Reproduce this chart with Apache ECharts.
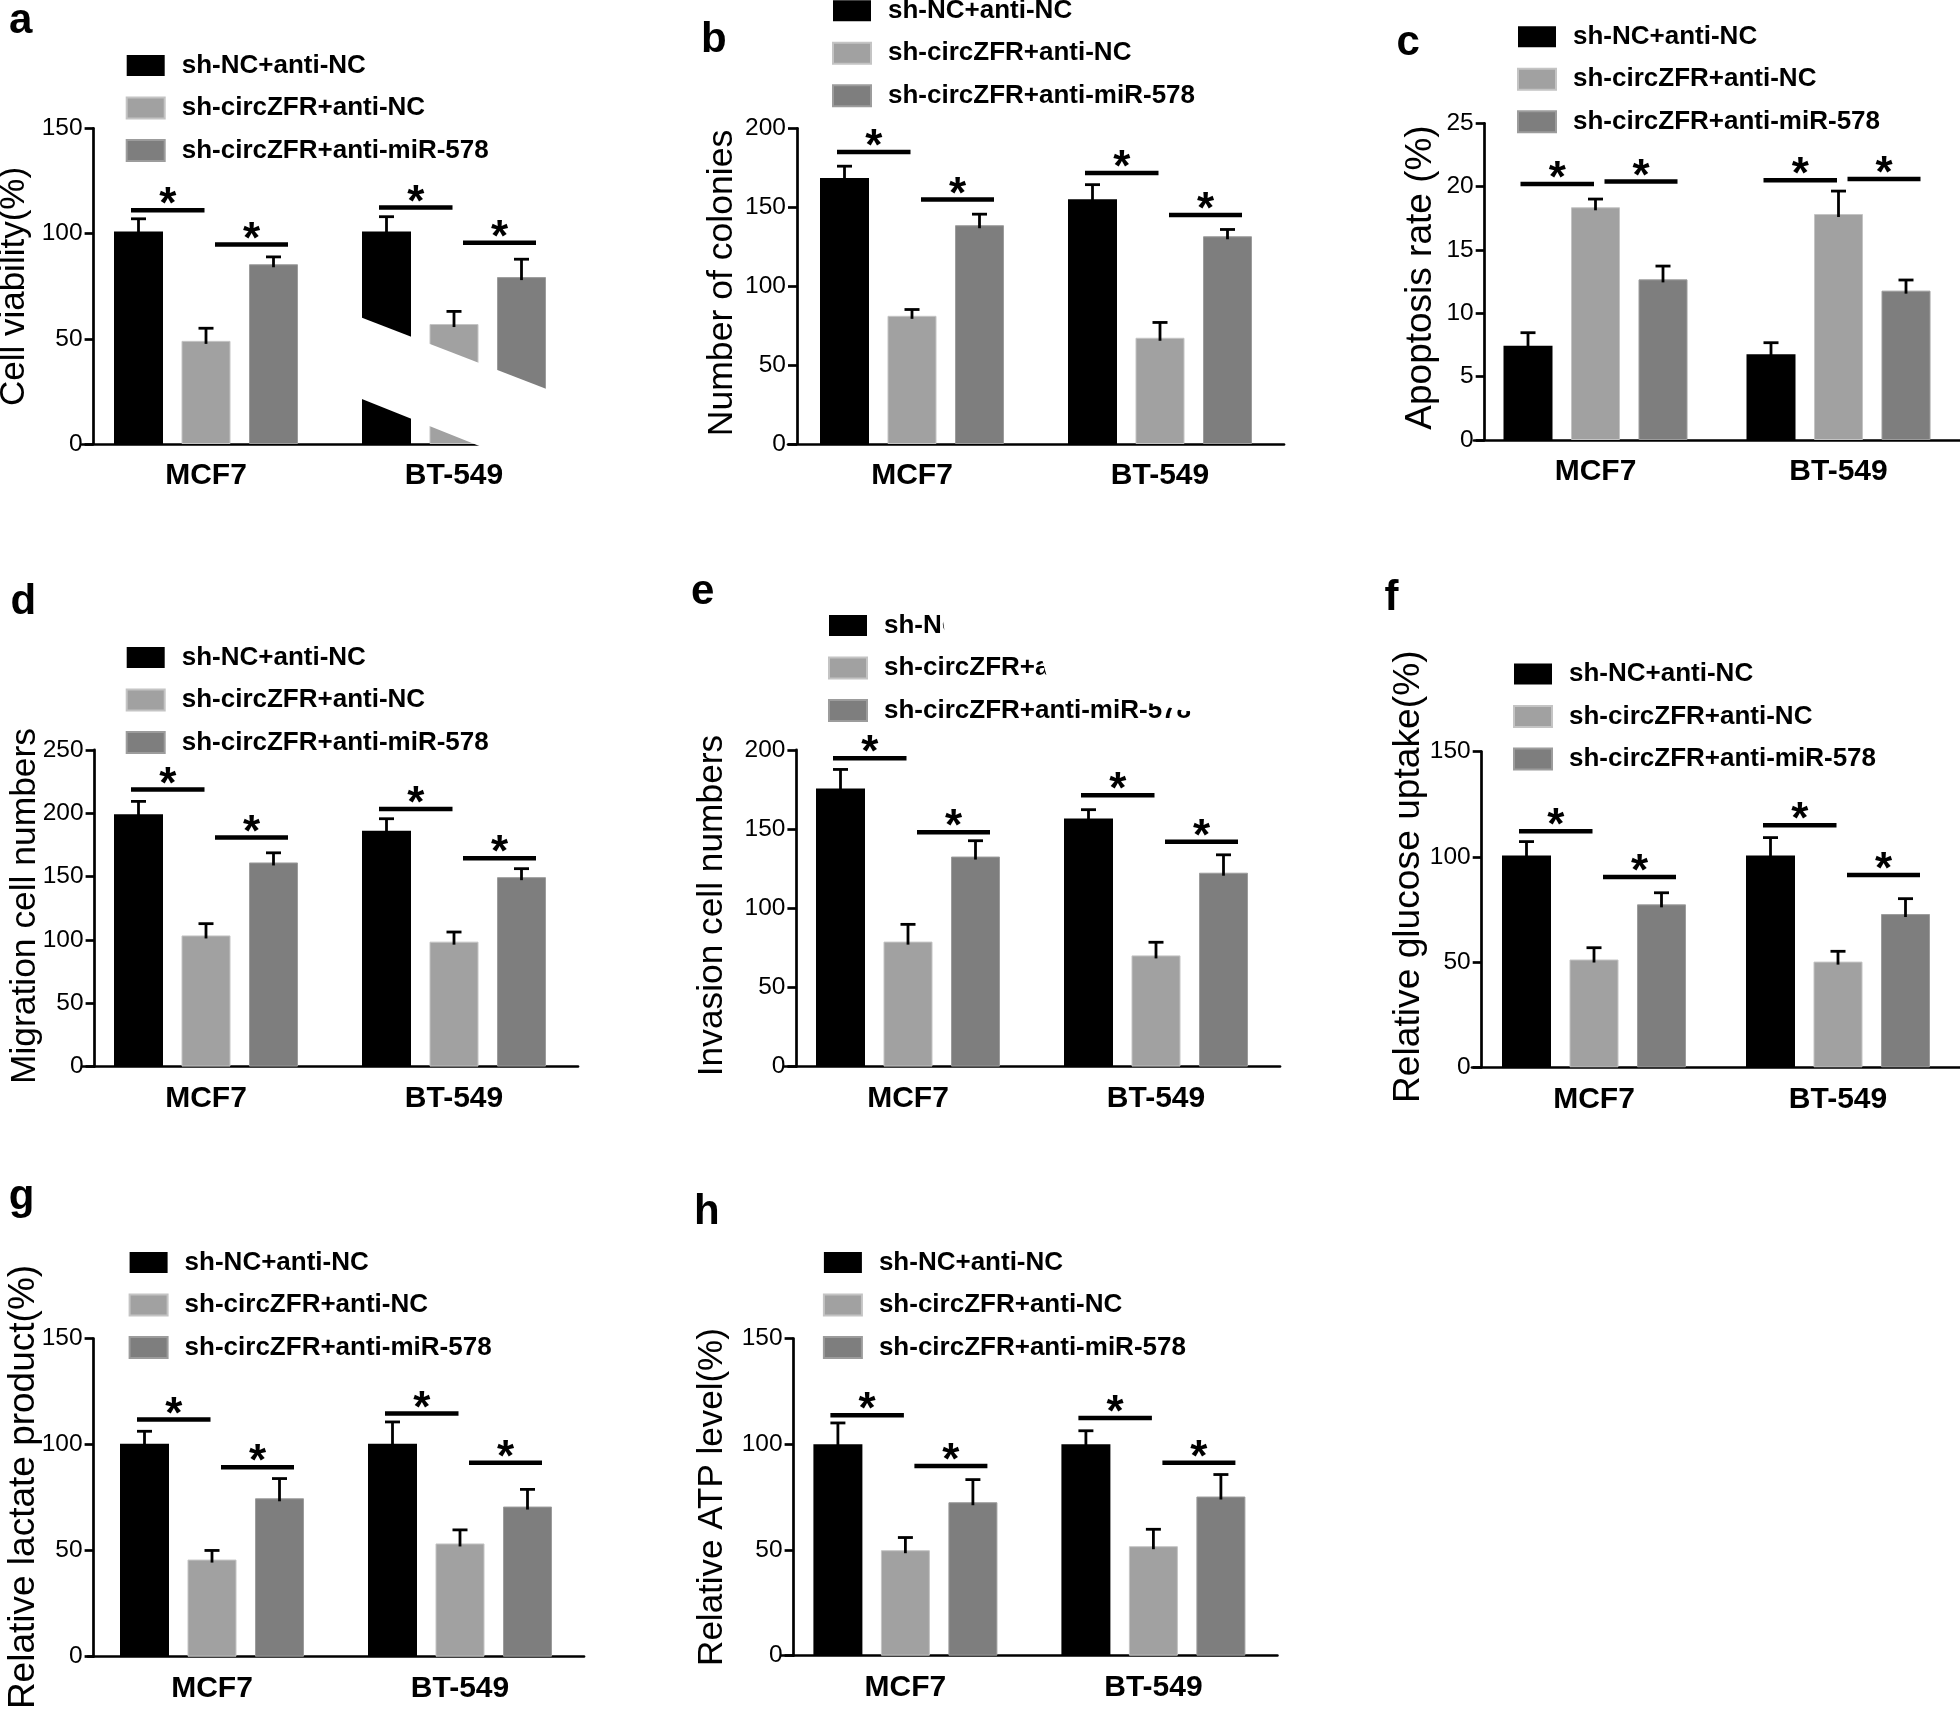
<!DOCTYPE html>
<html><head><meta charset="utf-8">
<script src="https://cdn.jsdelivr.net/npm/echarts@6/dist/echarts.min.js"></script>
<style>html,body{margin:0;padding:0;background:#fff}#c{width:1960px;height:1709px}</style>
</head><body><div id="c"></div>
<script>
// ---------------- data ----------------
const categories = ['MCF7', 'BT-549'];
const groupNames = ['sh-NC+anti-NC', 'sh-circZFR+anti-NC', 'sh-circZFR+anti-miR-578'];

// a: Cell viability
const aMeans = [[101, 101], [49, 57], [85.4, 79.3]];
const aErrors = [[6, 7], [6, 6], [3.5, 8.5]];
const aSig = [[111.1, 94.8], [112.4, 95.6]];
const aTicks = [0, 50, 100, 150];
// b: Number of colonies
const bMeans = [[168.5, 155], [81.2, 67.3], [138.6, 131.6]];
const bErrors = [[7.5, 9.3], [4, 9.7], [7, 4.3]];
const bSig = [[185, 154.9], [171.7, 145]];
const bTicks = [0, 50, 100, 150, 200];
// c: Apoptosis rate
const cMeans = [[7.44, 6.76], [18.37, 17.84], [12.68, 11.79]];
const cErrors = [[1.03, 0.92], [0.65, 1.81], [1.05, 0.84]];
const cSig = [[20.2, 20.4], [20.5, 20.6]];
const cTicks = [0, 5, 10, 15, 20, 25];
// d: Migration
const dMeans = [[199.2, 186.2], [103.5, 98.6], [161.1, 149.5]];
const dErrors = [[10.1, 9.4], [9.3, 7.6], [7.6, 6.7]];
const dSig = [[218.7, 180.7], [203.3, 164.4]];
const dTicks = [0, 50, 100, 150, 200, 250];
// e: Invasion
const eMeans = [[175.6, 156.7], [78.9, 70.2], [132.6, 122.4]];
const eErrors = [[12, 5.5], [10.9, 8.3], [10, 11.3]];
const eSig = [[194.6, 148], [171.3, 142]];
const eTicks = [0, 50, 100, 150, 200];
// f: glucose uptake
const fMeans = [[100.6, 100.6], [51.2, 50.2], [77.4, 72.8]];
const fErrors = [[6.6, 8.5], [5.6, 4.9], [5.5, 7.3]];
const fSig = [[112.1, 90.4], [115, 91.3]];
const fTicks = [0, 50, 100, 150];
// g: lactate
const gMeans = [[100.4, 100.4], [45.8, 53.4], [74.7, 70.8]];
const gErrors = [[5.9, 10.3], [4.3, 6.4], [9.3, 8.1]];
const gSig = [[111.9, 89.3], [114.7, 91.5]];
const gTicks = [0, 50, 100, 150];
// h: ATP
const hMeans = [[100, 100], [49.9, 51.8], [72.6, 75.3]];
const hErrors = [[10.1, 6.4], [6, 8], [10.7, 10.4]];
const hSig = [[113.7, 89.7], [112.5, 91.3]];
const hTicks = [0, 50, 100, 150];

// ---------------- layout / style ----------------
const FF = '"Liberation Sans", Arial, Helvetica, sans-serif';
const COLORS = ['#000000', '#a1a1a1', '#7e7e7e'];
const BORDERS = ['#000000', '#c4c4c4', '#9c9c9c'];
const BAR_W = 49, UNIT = 67.5, CAP_HALF = 7.5, SPACING = 248;

const panels = [
  {letter: 'a', title: 'Cell viability(%)', means: aMeans, errs: aErrors, sig: aSig, ticks: aTicks,
   axisX: 93.6, c1: 206, top: 128.3, bottom: 444, legend: [125.7, 52.5], letterPos: [9, 21], titlePos: [14, 286.5, 35]},
  {letter: 'b', title: 'Number of colonies', means: bMeans, errs: bErrors, sig: bSig, ticks: bTicks,
   axisX: 797, c1: 912, top: 128.3, bottom: 444, legend: [832, -2.3], letterPos: [701, 40.5], titlePos: [722, 283, 35.6]},
  {letter: 'c', title: 'Apoptosis rate (%)', means: cMeans, errs: cErrors, sig: cSig, ticks: cTicks,
   axisX: 1484.7, c1: 1598, top: 123.3, bottom: 440, legend: [1517, 23.8], letterPos: [1396.5, 43.5], titlePos: [1421, 277.5, 37]},
  {letter: 'd', title: 'Migration cell numbers', means: dMeans, errs: dErrors, sig: dSig, ticks: dTicks,
   axisX: 94.6, c1: 206, top: 749.8, bottom: 1066.6, legend: [125.7, 644.5], letterPos: [10.5, 602], titlePos: [25, 906, 35.4]},
  {letter: 'e', title: 'Invasion cell numbers', means: eMeans, errs: eErrors, sig: eSig, ticks: eTicks,
   axisX: 796.4, c1: 908, top: 749.8, bottom: 1066.6, legend: [828, 612.5], letterPos: [691, 592.5], titlePos: [712, 905.5, 35.3]},
  {letter: 'f', title: 'Relative glucose uptake(%)', means: fMeans, errs: fErrors, sig: fSig, ticks: fTicks,
   axisX: 1481.7, c1: 1596, top: 751.5, bottom: 1067.3, legend: [1513, 661], letterPos: [1384.5, 598.5], titlePos: [1409, 876.7, 37.2]},
  {letter: 'g', title: 'Relative lactate product(%)', means: gMeans, errs: gErrors, sig: gSig, ticks: gTicks,
   axisX: 93.6, c1: 212, top: 1338.6, bottom: 1656.7, legend: [128.6, 1249.5], letterPos: [8.7, 1197.5], titlePos: [24, 1487, 37]},
  {letter: 'h', title: 'Relative ATP level(%)', means: hMeans, errs: hErrors, sig: hSig, ticks: hTicks,
   axisX: 793.6, c1: 905.4, top: 1338.6, bottom: 1655.7, legend: [822.9, 1249.5], letterPos: [694, 1212], titlePos: [712, 1497, 35]}
];

const AX = {color: '#000', width: 2.7};
const grid = [], xAxis = [], yAxis = [], series = [], legend = [], elements = [];

panels.forEach((p, i) => {
  const left = p.c1 - SPACING / 2;
  grid.push({left: left, top: p.top, width: SPACING * 2, height: p.bottom - p.top, containLabel: false});
  xAxis.push({
    type: 'category', gridIndex: i, data: categories,
    axisLine: {lineStyle: AX},
    axisTick: {alignWithLabel: true, length: 9, lineStyle: AX},
    axisLabel: {color: '#000', fontSize: 30, fontWeight: 'bold', fontFamily: FF, margin: 17}
  });
  yAxis.push({
    type: 'value', gridIndex: i,
    min: p.ticks[0], max: p.ticks[p.ticks.length - 1], interval: p.ticks[1] - p.ticks[0],
    offset: -(p.axisX - left),
    axisLine: {show: true, lineStyle: AX},
    axisTick: {show: true, length: 9, lineStyle: AX},
    splitLine: {show: false},
    axisLabel: {color: '#000', fontSize: 24.5, fontFamily: FF, margin: 11}
  });
  groupNames.forEach((name, s) => {
    series.push({
      type: 'bar', name: name, xAxisIndex: i, yAxisIndex: i,
      data: p.means[s], barWidth: BAR_W, barGap: ((UNIT - BAR_W) / BAR_W * 100) + '%',
      itemStyle: {color: COLORS[s], borderColor: BORDERS[s], borderWidth: s === 0 ? 0 : 1},
      silent: true, z: 2
    });
  });
  // error bars (mean + SD, drawn through the axes' scales)
  const errData = [];
  p.means.forEach((arr, s) => arr.forEach((m, c) => errData.push([c, s, m, p.errs[s][c]])));
  series.push({
    type: 'custom', name: 'err-' + p.letter, xAxisIndex: i, yAxisIndex: i, z: 5, silent: true,
    encode: {x: 0, y: 2}, data: errData,
    renderItem: function (params, api) {
      const c = api.value(0), s = api.value(1), m = api.value(2), e = api.value(3);
      const p0 = api.coord([c, m]);
      const p1 = api.coord([c, m + e]);
      const x = p0[0] + (s - 1) * UNIT;
      return {type: 'group', children: [
        {type: 'line', shape: {x1: x, y1: p0[1] + 3, x2: x, y2: p1[1]}, style: {stroke: '#000', lineWidth: 2.8}},
        {type: 'line', shape: {x1: x - CAP_HALF, y1: p1[1], x2: x + CAP_HALF, y2: p1[1]}, style: {stroke: '#000', lineWidth: 2.8}}
      ]};
    }
  });
  // significance bars with asterisks
  series.push({
    type: 'custom', name: 'sig-' + p.letter, xAxisIndex: i, yAxisIndex: i, z: 5, silent: true,
    encode: {x: 0, y: 1}, data: p.sig.map((l, c) => [c, l[0], l[1]]),
    renderItem: function (params, api) {
      const c = api.value(0);
      const q1 = api.coord([c, api.value(1)]);
      const q2 = api.coord([c, api.value(2)]);
      const children = [];
      [[q1, -75, -1.5], [q2, 9, 82]].forEach(function (t) {
        const xa = t[0][0] + t[1], xb = t[0][0] + t[2], y = t[0][1];
        children.push({type: 'line', shape: {x1: xa, y1: y, x2: xb, y2: y}, style: {stroke: '#000', lineWidth: 4.5}});
        children.push({type: 'text', x: (xa + xb) / 2, y: y - 4,
          style: {text: '*', fontSize: 44, fontWeight: 'bold', fontFamily: FF, fill: '#000', align: 'center', verticalAlign: 'middle'}});
      });
      return {type: 'group', children: children};
    }
  });
  legend.push({
    left: p.legend[0], top: p.legend[1], orient: 'vertical', padding: 0,
    itemWidth: 38, itemHeight: 21, itemGap: 16.5, icon: 'rect', selectedMode: false,
    data: groupNames,
    textStyle: {color: '#000', fontSize: 26, fontWeight: 'bold', fontFamily: FF, lineHeight: 26, padding: [0, 0, 0, 12]}
  });
  elements.push({type: 'text', x: p.letterPos[0], y: p.letterPos[1], z: 50,
    style: {text: p.letter, fontSize: 42, fontWeight: 'bold', fontFamily: FF, fill: '#000', align: 'left', verticalAlign: 'middle'}});
  elements.push({type: 'text', x: p.titlePos[0], y: p.titlePos[1], rotation: Math.PI / 2, z: 50,
    style: {text: p.title, fontSize: p.titlePos[2], fontFamily: FF, fill: '#000', align: 'center', verticalAlign: 'middle'}});
});

// white scan artefacts present in the source figure
elements.push({type: 'polygon', z: 100, shape: {points: [[340, 309.3], [610, 413.5], [610, 498.3], [340, 390.3]]}, style: {fill: '#fff'}});
elements.push({type: 'polygon', z: 100, shape: {points: [[938, 590], [1240, 590], [1240, 712], [1185, 711], [1135, 700], [1050, 688], [1040, 652], [946, 640]]}, style: {fill: '#fff'}});

const chart = echarts.init(document.getElementById('c'), null, {renderer: 'canvas'});
chart.setOption({
  animation: false,
  backgroundColor: '#fff',
  grid: grid, xAxis: xAxis, yAxis: yAxis, series: series, legend: legend,
  graphic: {elements: elements}
});
</script></body></html>
